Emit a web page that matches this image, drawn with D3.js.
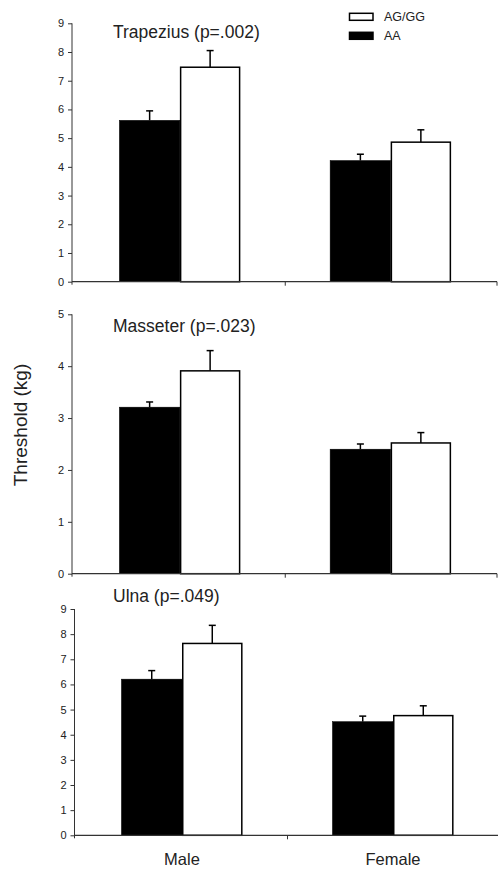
<!DOCTYPE html>
<html>
<head>
<meta charset="utf-8">
<script src="https://cdn.jsdelivr.net/npm/d3@7"></script>
<style>
  html, body { margin: 0; padding: 0; background: #fff; }
  svg { display: block; }
  text { font-family: "Liberation Sans", Arial, sans-serif; fill: #222; }
</style>
</head>
<body>
<svg id="chart" width="498" height="870"></svg>
<script>
// ---- data ----
const categories = ["Male", "Female"];
const groups = ["AA", "AG/GG"];

const panelNames = ["Trapezius (p=.002)", "Masseter (p=.023)", "Ulna (p=.049)"];

const trapeziusTicks = [0, 1, 2, 3, 4, 5, 6, 7, 8, 9];
const masseterTicks = [0, 1, 2, 3, 4, 5];
const ulnaTicks = [0, 1, 2, 3, 4, 5, 6, 7, 8, 9];

// means by category (Male, Female)
const trapeziusAA = [5.62, 4.22];
const trapeziusAGGG = [7.47, 4.86];
const trapeziusAAse = [0.33, 0.22];
const trapeziusAGGGse = [0.58, 0.43];

const masseterAA = [3.21, 2.40];
const masseterAGGG = [3.91, 2.52];
const masseterAAse = [0.10, 0.10];
const masseterAGGGse = [0.39, 0.20];

const ulnaAA = [6.21, 4.52];
const ulnaAGGG = [7.63, 4.76];
const ulnaAAse = [0.34, 0.22];
const ulnaAGGGse = [0.72, 0.39];

const yLabel = "Threshold (kg)";
const legendItems = ["AG/GG", "AA"];

// ---- layout ----
const panels = [
  { title: panelNames[0], ticks: trapeziusTicks, aa: trapeziusAA, ag: trapeziusAGGG, aaSe: trapeziusAAse, agSe: trapeziusAGGGse,
    yTop: 23.3, yBottom: 281.7, axisX: 72, xRange: [74.5, 496], axisRight: 497, titleY: 38 },
  { title: panelNames[1], ticks: masseterTicks, aa: masseterAA, ag: masseterAGGG, aaSe: masseterAAse, agSe: masseterAGGGse,
    yTop: 314.3, yBottom: 573.7, axisX: 72, xRange: [74.5, 496], axisRight: 497, titleY: 332 },
  { title: panelNames[2], ticks: ulnaTicks, aa: ulnaAA, ag: ulnaAGGG, aaSe: ulnaAAse, agSe: ulnaAGGGse,
    yTop: 609, yBottom: 835.3, axisX: 74.5, xRange: [76.5, 498.5], axisRight: 500, titleY: 601.5 }
];

const svg = d3.select("#chart");
const axisColor = "#333";

panels.forEach((p, pi) => {
  const g = svg.append("g");
  const y = d3.scaleLinear().domain([0, d3.max(p.ticks)]).range([p.yBottom, p.yTop]);
  const x = d3.scaleBand().domain(categories).range(p.xRange).paddingInner(0.426).paddingOuter(0.213);
  const xs = d3.scaleBand().domain(groups).range([0, x.bandwidth()]);

  // y axis
  const yAxis = d3.axisLeft(y).tickValues(p.ticks).tickSize(4).tickPadding(4).tickFormat(d3.format("d"));
  const ya = g.append("g").attr("transform", `translate(${p.axisX},0)`).call(yAxis);
  ya.select(".domain").remove();
  ya.selectAll("line").attr("stroke", axisColor).attr("stroke-width", 1);
  ya.selectAll("text").style("font-size", "11px").style("font-family", "'Liberation Sans', Arial, sans-serif").attr("fill", "#333");
  g.append("line").attr("x1", p.axisX).attr("x2", p.axisX)
    .attr("y1", p.yTop).attr("y2", p.yBottom + 3)
    .attr("stroke", axisColor).attr("stroke-width", 1);

  // bars
  const rows = categories.map((c, i) => [
    { cat: c, grp: "AA", v: p.aa[i], se: p.aaSe[i] },
    { cat: c, grp: "AG/GG", v: p.ag[i], se: p.agSe[i] }
  ]).flat();

  // error bars (drawn first, upward only)
  rows.forEach(r => {
    const cx = x(r.cat) + xs(r.grp) + xs.bandwidth() / 2;
    g.append("line").attr("x1", cx).attr("x2", cx)
      .attr("y1", y(r.v)).attr("y2", y(r.v + r.se))
      .attr("stroke", "#000").attr("stroke-width", 1.5);
    g.append("line").attr("x1", cx - 3.5).attr("x2", cx + 3.5)
      .attr("y1", y(r.v + r.se)).attr("y2", y(r.v + r.se))
      .attr("stroke", "#000").attr("stroke-width", 1.5);
  });

  g.selectAll("rect.bar").data(rows).enter().append("rect")
    .attr("class", "bar")
    .attr("x", d => x(d.cat) + xs(d.grp) + (d.grp === "AG/GG" ? 0.75 : 0))
    .attr("width", d => xs.bandwidth() - (d.grp === "AG/GG" ? 1.5 : 0))
    .attr("y", d => y(d.v))
    .attr("height", d => y(0) - y(d.v))
    .attr("fill", d => d.grp === "AA" ? "#000" : "#fff")
    .attr("stroke", "#000")
    .attr("stroke-width", d => d.grp === "AA" ? 0.5 : 1.5);

  // x axis line
  g.append("line").attr("x1", p.axisX).attr("x2", p.axisRight)
    .attr("y1", y(0)).attr("y2", y(0))
    .attr("stroke", axisColor).attr("stroke-width", 1.2);
  // x ticks at category boundaries
  const step = x.step();
  const boundaries = [x(categories[1]) - (step - x.bandwidth()) / 2, p.axisRight];
  boundaries.forEach(bx => {
    g.append("line").attr("x1", bx).attr("x2", bx)
      .attr("y1", y(0)).attr("y2", y(0) + 4)
      .attr("stroke", axisColor).attr("stroke-width", 1);
  });

  // title
  g.append("text").attr("x", 113).attr("y", p.titleY)
    .style("font-size", "17.5px").text(p.title);

  // category labels under bottom panel
  if (pi === panels.length - 1) {
    g.selectAll("text.cat").data(categories).enter().append("text")
      .attr("class", "cat")
      .attr("x", d => x(d) + x.bandwidth() / 2)
      .attr("y", 865)
      .attr("text-anchor", "middle")
      .style("font-size", "16.5px")
      .text(d => d);
  }
});

// legend
const legend = svg.append("g");
legendItems.forEach((item, i) => {
  const ly = 13.3 + i * 19;
  legend.append("rect").attr("x", 349.5).attr("y", ly).attr("width", 23.5).attr("height", 7)
    .attr("fill", item === "AA" ? "#000" : "#fff")
    .attr("stroke", "#000").attr("stroke-width", 1.5);
  legend.append("text").attr("x", 384).attr("y", ly + 8)
    .style("font-size", "12.5px").text(item);
});

// y label
svg.append("text")
  .attr("transform", "translate(27,425) rotate(-90)")
  .attr("text-anchor", "middle")
  .style("font-size", "19px")
  .text(yLabel);
</script>
</body>
</html>
